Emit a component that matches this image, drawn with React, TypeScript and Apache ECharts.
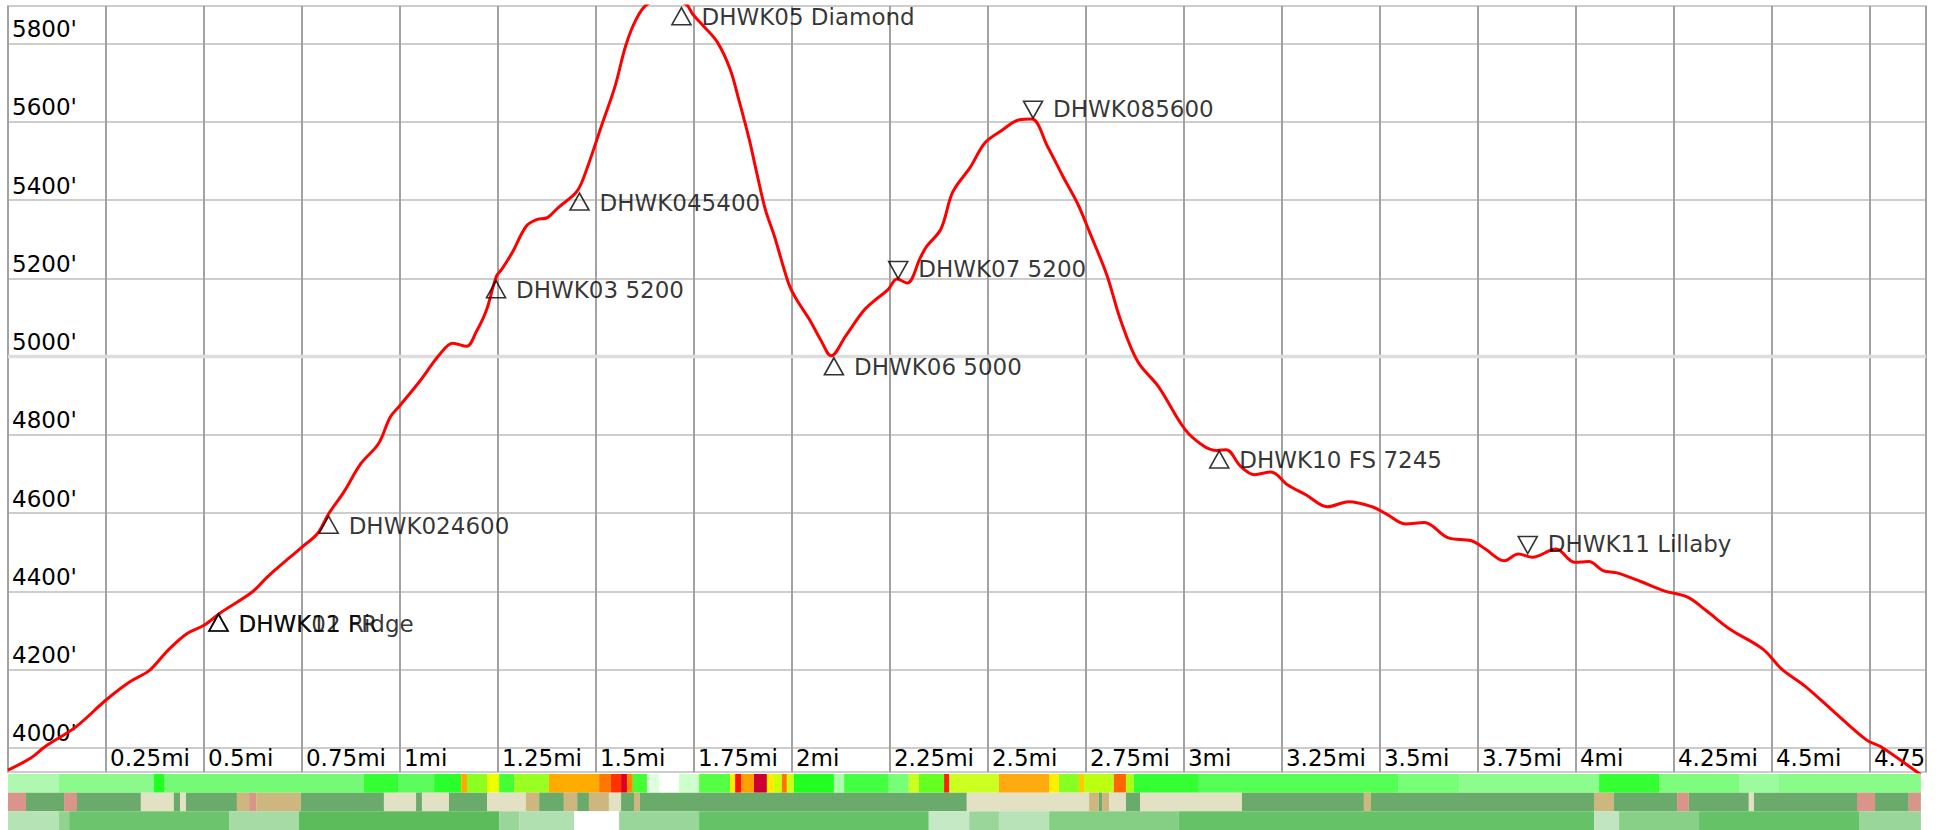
import React, { useEffect, useRef } from 'react';
import * as echarts from 'echarts';

// Elevation profile: [miles, feet]
const elevation: [number, number][] = [
  [0, 3943], [0.057, 3973], [0.095, 4003], [0.174, 4054], [0.25, 4122], [0.31, 4168], [0.36, 4197],
  [0.408, 4249], [0.457, 4292], [0.5, 4313], [0.545, 4347], [0.623, 4398], [0.662, 4437], [0.75, 4513],
  [0.789, 4547], [0.818, 4598], [0.857, 4654], [0.9, 4726], [0.945, 4777], [0.975, 4845], [1.0, 4875],
  [1.053, 4940], [1.1, 5004], [1.135, 5034], [1.17, 5026], [1.194, 5062], [1.22, 5117], [1.246, 5205],
  [1.259, 5222], [1.286, 5265], [1.322, 5333], [1.349, 5350], [1.376, 5355], [1.403, 5380], [1.449, 5419],
  [1.467, 5453], [1.517, 5598], [1.549, 5692], [1.576, 5795], [1.603, 5863], [1.63, 5900], [1.68, 5915],
  [1.73, 5900], [1.747, 5875], [1.774, 5845], [1.81, 5803], [1.842, 5735], [1.864, 5658], [1.891, 5555],
  [1.91, 5470], [1.932, 5376], [1.955, 5308], [1.991, 5188], [2.009, 5150], [2.045, 5094], [2.073, 5043],
  [2.1, 5002], [2.136, 5051], [2.181, 5115], [2.208, 5141], [2.245, 5171], [2.268, 5198], [2.294, 5188],
  [2.328, 5254], [2.344, 5282], [2.38, 5326], [2.41, 5420], [2.455, 5484], [2.492, 5546], [2.534, 5577],
  [2.58, 5605], [2.612, 5607], [2.652, 5537], [2.691, 5461], [2.73, 5388], [2.76, 5316], [2.803, 5209],
  [2.838, 5094], [2.882, 4987], [2.935, 4923], [3.003, 4813], [3.052, 4770], [3.084, 4760], [3.108, 4762],
  [3.144, 4720], [3.18, 4698], [3.222, 4705], [3.264, 4672], [3.312, 4646], [3.366, 4616], [3.42, 4629],
  [3.48, 4616], [3.517, 4597], [3.565, 4572], [3.613, 4576], [3.673, 4537], [3.733, 4529], [3.769, 4508],
  [3.817, 4478], [3.853, 4495], [3.889, 4487], [3.949, 4508], [3.997, 4474], [4.033, 4476], [4.069, 4453],
  [4.105, 4447], [4.165, 4425], [4.225, 4401], [4.285, 4385], [4.333, 4350], [4.393, 4303], [4.477, 4252],
  [4.525, 4201], [4.585, 4157], [4.657, 4093], [4.741, 4020], [4.777, 4003], [4.873, 3936], [4.9, 3915],
];

// Waypoints
const wpNames = [
  'DHWK01 Ridge', 'DHWK12 FR', 'DHWK024600', 'DHWK03 5200', 'DHWK045400', 'DHWK05 Diamond',
  'DHWK06 5000', 'DHWK07 5200', 'DHWK085600', 'DHWK10 FS 7245', 'DHWK11 Lillaby',
];
const wpMiles = [0.537, 0.537, 0.818, 1.245, 1.458, 1.718, 2.107, 2.271, 2.615, 3.09, 3.877];
const wpFeet = [4343, 4343, 4593, 5195, 5419, 5893, 4998, 5198, 5608, 4760, 4495];
const wpDirs = ['up', 'up', 'up', 'up', 'up', 'up', 'up', 'down', 'down', 'up', 'down'];

// Bands below the plot: [startMi, endMi, colour]
const slopeBand: [number, number, string][] = [
  [0, 0.13, '#aff8af'], [0.13, 0.372, '#8cf98c'], [0.372, 0.398, '#22ff22'], [0.398, 0.908, '#74fa74'],
  [0.908, 0.997, '#33ff33'], [0.997, 1.087, '#5cfc5c'], [1.087, 1.156, '#2bff2b'], [1.156, 1.171, '#ffaa00'],
  [1.171, 1.222, '#8cff20'], [1.222, 1.253, '#eeff00'], [1.253, 1.291, '#44ff33'], [1.291, 1.38, '#99ff22'],
  [1.38, 1.508, '#ffab00'], [1.508, 1.538, '#ff7700'], [1.538, 1.564, '#ff3300'], [1.564, 1.579, '#dd0022'],
  [1.579, 1.594, '#ff8800'], [1.594, 1.63, '#44ff33'], [1.63, 1.661, '#ddffdd'], [1.661, 1.712, '#ffffff'],
  [1.712, 1.763, '#ccffcc'], [1.763, 1.842, '#55ff44'], [1.842, 1.855, '#ffee00'], [1.855, 1.87, '#ff1100'],
  [1.87, 1.903, '#ffa000'], [1.903, 1.936, '#cc0033'], [1.936, 1.954, '#ffee00'], [1.954, 1.974, '#ccff00'],
  [1.974, 1.987, '#ff7700'], [1.987, 2.005, '#ccff11'], [2.005, 2.107, '#22ff22'], [2.107, 2.133, '#aaffaa'],
  [2.133, 2.247, '#44ff44'], [2.247, 2.298, '#77ff77'], [2.298, 2.324, '#ccff22'], [2.324, 2.388, '#66ff22'],
  [2.388, 2.401, '#ff2200'], [2.401, 2.528, '#ccff22'], [2.528, 2.656, '#ffaa10'], [2.656, 2.681, '#ffee00'],
  [2.681, 2.732, '#88ff22'], [2.732, 2.745, '#ffcc00'], [2.745, 2.821, '#bbff11'], [2.821, 2.852, '#ff6600'],
  [2.852, 2.872, '#aaff11'], [2.872, 3.038, '#33ff33'], [3.038, 3.548, '#55ff55'], [3.548, 3.702, '#77ff77'],
  [3.702, 4.059, '#8cfc8c'], [4.059, 4.212, '#33ff33'], [4.212, 4.416, '#7dfc7d'], [4.416, 4.518, '#9cfb9c'],
  [4.518, 4.88, '#88fb88'],
];
const surfaceBand: [number, number, string][] = [
  [0, 0.046, '#d9958a'], [0.046, 0.143, '#6aaa6a'], [0.143, 0.176, '#d9958a'], [0.176, 0.339, '#6aaa6a'],
  [0.339, 0.423, '#e3e1c3'], [0.423, 0.439, '#6aaa6a'], [0.439, 0.454, '#e3e1c3'], [0.454, 0.584, '#6aaa6a'],
  [0.584, 0.615, '#cdb77f'], [0.615, 0.633, '#d9958a'], [0.633, 0.747, '#cdb77f'], [0.747, 0.959, '#6aaa6a'],
  [0.959, 1.041, '#e3e1c3'], [1.041, 1.056, '#6aaa6a'], [1.056, 1.125, '#e3e1c3'], [1.125, 1.222, '#6aaa6a'],
  [1.222, 1.321, '#e3e1c3'], [1.321, 1.355, '#cdb77f'], [1.355, 1.418, '#6aaa6a'], [1.418, 1.452, '#cdb77f'],
  [1.452, 1.482, '#6aaa6a'], [1.482, 1.533, '#cdb77f'], [1.533, 1.564, '#e3e1c3'], [1.564, 1.597, '#6aaa6a'],
  [1.597, 1.612, '#cdb77f'], [1.612, 2.446, '#6aaa6a'], [2.446, 2.758, '#e3e1c3'], [2.758, 2.783, '#cdb77f'],
  [2.783, 2.791, '#6aaa6a'], [2.791, 2.809, '#cdb77f'], [2.809, 2.852, '#e3e1c3'], [2.852, 2.888, '#6aaa6a'],
  [2.888, 3.148, '#e3e1c3'], [3.148, 3.459, '#6aaa6a'], [3.459, 3.477, '#cdb77f'], [3.477, 4.046, '#6aaa6a'],
  [4.046, 4.097, '#cdb77f'], [4.097, 4.258, '#6aaa6a'], [4.258, 4.288, '#d9958a'], [4.288, 4.441, '#6aaa6a'],
  [4.441, 4.454, '#e3e1c3'], [4.454, 4.717, '#6aaa6a'], [4.717, 4.763, '#d9958a'], [4.763, 4.849, '#6aaa6a'],
  [4.849, 4.88, '#d9958a'],
];
const coverBand: [number, number, string][] = [
  [0, 0.13, '#b5e3b5'], [0.13, 0.156, '#8fd38f'], [0.156, 0.564, '#6cc46c'], [0.564, 0.742, '#a6dba6'],
  [0.742, 1.253, '#5cbc5c'], [1.253, 1.304, '#99d699'], [1.304, 1.444, '#b0e0b0'], [1.444, 1.559, '#ffffff'],
  [1.559, 1.763, '#99d699'], [1.763, 2.349, '#66c266'], [2.349, 2.452, '#c5e8c5'], [2.452, 2.528, '#9ad69a'],
  [2.528, 2.656, '#b8e2b8'], [2.656, 2.987, '#85cf85'], [2.987, 4.046, '#66c266'], [4.046, 4.11, '#c0e5c0'],
  [4.11, 4.314, '#88d088'], [4.314, 4.722, '#66c266'], [4.722, 4.88, '#99d699'],
];

const X_MAX = 4.893;
const Y_MIN = 3938;
const Y_MAX = 5896;
const FONT = 'DejaVu Sans';
const FONT_SIZE = 23;

export default function App() {
  const ref = useRef<HTMLDivElement>(null);
  useEffect(() => {
    const chart = echarts.init(ref.current!, undefined, { renderer: 'svg' });
    const bandData = [slopeBand, surfaceBand, coverBand].flatMap((band, row) =>
      band.map(([s, e, c]) => ({ value: [s, e, row], itemStyle: { color: c } }))
    );
    const wpTriangles = wpNames.map((n, i) => ({
      name: n,
      value: [wpMiles[i], wpFeet[i]],
      symbolRotate: wpDirs[i] === 'down' ? 180 : 0,
      symbolOffset: [0, wpDirs[i] === 'down' ? -9 : 9],
    }));
    const wpLabels = wpNames.map((n, i) => ({
      name: n,
      value: [wpMiles[i], wpFeet[i]],
      label: { offset: [19.5, wpDirs[i] === 'down' ? -10 : 10] },
    }));
    chart.setOption({
      animation: false,
      grid: [
        {
          left: 8, top: 6, width: 1918, height: 766, show: true, borderColor: '#999', borderWidth: 1.5,
          backgroundColor: 'transparent', containLabel: false, outerBoundsMode: 'none',
        },
        { left: 8, top: 774, width: 1918, height: 56, containLabel: false, outerBoundsMode: 'none' },
      ],
      xAxis: [
        {
          type: 'value', gridIndex: 0, min: 0, max: X_MAX, interval: 0.25,
          axisLine: { show: false }, axisTick: { show: false },
          splitLine: { show: true, lineStyle: { color: '#a2a2a2', width: 2 } },
          axisLabel: {
            inside: true, showMinLabel: false, showMaxLabel: false, align: 'left', verticalAlign: 'bottom',
            margin: 3, padding: [0, 0, 0, 4], formatter: (v: number) => `${v}mi`,
            fontFamily: FONT, fontSize: FONT_SIZE, color: '#000',
          },
        },
        { type: 'value', gridIndex: 1, min: 0, max: X_MAX, show: false },
      ],
      yAxis: [
        {
          type: 'value', gridIndex: 0, min: Y_MIN, max: Y_MAX, splitNumber: 10,
          axisLine: { show: false }, axisTick: { show: false },
          splitLine: { show: true, lineStyle: { color: '#cdcdcd', width: 2 } },
          axisLabel: {
            inside: true, showMinLabel: false, showMaxLabel: false, align: 'left', verticalAlign: 'bottom',
            margin: 4, padding: [0, 0, 3, 0], formatter: (v: number) => `${v}'`,
            fontFamily: FONT, fontSize: FONT_SIZE, color: '#000',
          },
        },
        { type: 'value', gridIndex: 1, min: 0, max: 3, inverse: true, show: false },
      ],
      graphic: [
        { type: 'rect', shape: { x: 1927, y: 700, width: 13, height: 73 }, style: { fill: '#fff' }, z: 100 },
      ],
      series: [
        {
          type: 'line', xAxisIndex: 0, yAxisIndex: 0, data: [[0, 5000], [X_MAX, 5000]],
          symbol: 'none', lineStyle: { color: '#dddddd', width: 3.5 }, z: 1, silent: true,
        },
        {
          type: 'line', xAxisIndex: 0, yAxisIndex: 0, data: elevation, symbol: 'none', showSymbol: false,
          lineStyle: { color: '#ff0000', width: 3 }, smooth: 0.35, clip: true, z: 3, silent: true,
        },
        {
          type: 'scatter', xAxisIndex: 0, yAxisIndex: 0, data: wpTriangles, symbol: 'triangle', symbolSize: [19, 17],
          itemStyle: { color: 'rgba(0,0,0,0)', borderColor: '#000', borderWidth: 1.6 }, z: 4, silent: true,
        },
        {
          type: 'scatter', xAxisIndex: 0, yAxisIndex: 0, data: wpLabels, symbolSize: 1,
          itemStyle: { color: 'rgba(0,0,0,0)' }, z: 5, silent: true,
          label: { show: true, position: 'right', distance: 0, formatter: '{b}', fontFamily: FONT, fontSize: FONT_SIZE, color: '#000' },
        },
        {
          type: 'custom', xAxisIndex: 1, yAxisIndex: 1, data: bandData, encode: { x: [0, 1], y: 2 }, silent: true,
          renderItem: (params: any, api: any) => {
            const p0 = api.coord([api.value(0), api.value(2)]);
            const p1 = api.coord([api.value(1), api.value(2) + 1]);
            return {
              type: 'rect',
              shape: { x: p0[0], y: p0[1], width: p1[0] - p0[0], height: p1[1] - p0[1] },
              style: { fill: api.visual('color') },
            };
          },
        },
      ],
    });
    return () => chart.dispose();
  }, []);
  return <div ref={ref} style={{ position: 'absolute', left: 0, top: 0, width: 1940, height: 830 }} />;
}
